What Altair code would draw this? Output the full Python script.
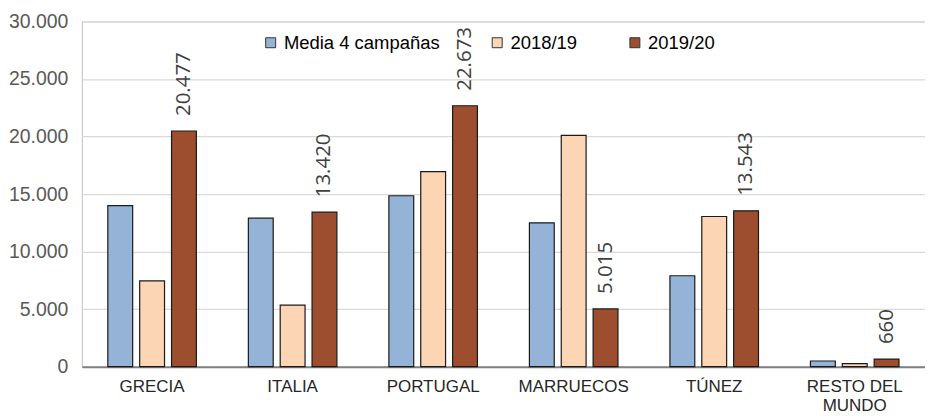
import altair as alt
import pandas as pd

categories = ["GRECIA", "ITALIA", "PORTUGAL", "MARRUECOS", "TÚNEZ", "RESTO DEL MUNDO"]
series_names = ["Media 4 campañas", "2018/19", "2019/20"]
media_4 = [14000, 12900, 14850, 12500, 7900, 490]
s_2018_19 = [7450, 5350, 16950, 20100, 13050, 260]
s_2019_20 = [20477, 13420, 22673, 5015, 13543, 660]
colors = ["#95B3D7", "#FCD5B5", "#9C4E2F"]
y_ticks = [0, 5000, 10000, 15000, 20000, 25000, 30000]

rows = []
for name, vals in zip(series_names, [media_4, s_2018_19, s_2019_20]):
    for c, v in zip(categories, vals):
        rows.append({"cat": c, "serie": name, "valor": v})
df = pd.DataFrame(rows)

x_enc = alt.X(
    "cat:N",
    sort=categories,
    title=None,
    scale=alt.Scale(paddingInner=0.32, paddingOuter=0.16),
    axis=alt.Axis(
        labelAngle=0,
        labelFont="Liberation Sans",
        labelFontSize=17,
        labelColor="#262626",
        labelPadding=12,
        labelLineHeight=19,
        ticks=False,
        domainColor="#808080",
        domainWidth=2,
        grid=False,
        labelExpr="datum.label == 'RESTO DEL MUNDO' ? ['RESTO DEL', 'MUNDO'] : datum.label",
    ),
)

y_enc = alt.Y(
    "valor:Q",
    title=None,
    scale=alt.Scale(domain=[0, 30000], nice=False),
    axis=alt.Axis(
        values=y_ticks,
        labelFont="Liberation Sans",
        labelFontSize=19.5,
        labelColor="#595959",
        labelPadding=14,
        ticks=False,
        domain=False,
        gridColor="#D9D9D9",
        gridWidth=1.2,
        labelExpr="replace(format(datum.value, ','), ',', '.')",
    ),
)

xoff = alt.XOffset(
    "serie:N",
    sort=series_names,
    scale=alt.Scale(paddingInner=0.22, paddingOuter=0.11),
)

bars = alt.Chart(df).mark_bar(stroke="#1a1a1a", strokeWidth=1.2).encode(
    x=x_enc,
    xOffset=xoff,
    y=y_enc,
    color=alt.Color(
        "serie:N",
        sort=series_names,
        scale=alt.Scale(domain=series_names, range=colors),
        legend=alt.Legend(
            title=None,
            orient="none",
            legendX=180,
            legendY=12,
            direction="horizontal",
            symbolType="square",
            symbolSize=100,
            symbolStrokeColor="#333333",
            symbolStrokeWidth=1,
            labelFont="Liberation Sans",
            labelFontSize=18.5,
            labelColor="#000000",
            labelOffset=4,
            columnPadding=48,
            padding=0,
        ),
    ),
)

labels = (
    alt.Chart(df)
    .transform_filter(alt.datum.serie == "2019/20")
    .transform_calculate(txt="replace(format(datum.valor, ','), ',', '.')")
    .mark_text(
        angle=270,
        align="left",
        baseline="middle",
        dx=15,
        font="Open Sans",
        fontSize=20.5,
        color="#404040",
    )
    .encode(
        x=alt.X("cat:N", sort=categories),
        xOffset=xoff,
        y=alt.Y("valor:Q"),
        text="txt:N",
    )
)

chart = (
    alt.layer(bars, labels)
    .properties(
        width=845,
        height=346,
        padding={"left": 0, "top": 3, "right": 0, "bottom": 0},
        background="#FFFFFF",
    )
    .configure_view(stroke="#BFBFBF", strokeWidth=1)
)

chart.save("out.html", embed_options={"renderer": "svg", "actions": False})
